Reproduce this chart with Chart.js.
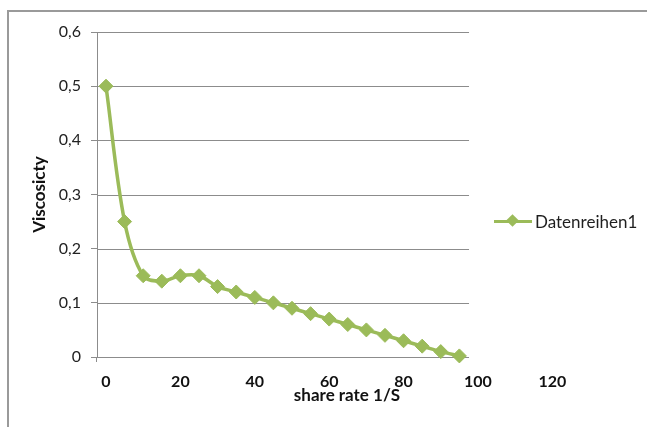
<!DOCTYPE html>
<html>
<head>
<meta charset="utf-8">
<script src="https://cdn.jsdelivr.net/npm/chart.js@4.4.0/dist/chart.umd.min.js"></script>
<style>
  html, body { margin: 0; padding: 0; background: #fff; }
  #wrap { position: relative; width: 647px; height: 427px; overflow: hidden; }
  #frame { position: absolute; left: 7px; top: 10px; right: -4px; bottom: -4px;
           border-left: 2px solid #9a9a9a; border-top: 2px solid #9a9a9a; }
  #chart { position: absolute; left: 0; top: 0; }
  .legend { position: absolute; left: 494px; top: 211px; height: 20px;
            font-family: Lato, "Open Sans", sans-serif; font-size: 17px; color: #1f1f1f;
            display: flex; align-items: center; }
  .legend-mark { position: relative; width: 38px; height: 20px; margin-right: 3px; }
  .legend-mark .ln { position: absolute; left: 0; right: 0; top: 8.5px; height: 3px; background: #9bbb59; }
  .legend-mark .dm { position: absolute; left: 14px; top: 5px; width: 9px; height: 9px;
                     background: #9bbb59; transform: rotate(45deg); }
</style>
</head>
<body>
<div id="wrap">
  <div id="frame"></div>
  <canvas id="chart" width="647" height="427"></canvas>
  <div class="legend">
    <span class="legend-mark"><span class="ln"></span><span class="dm"></span></span>
    <span id="legendLabel"></span>
  </div>
</div>
<script>
// share rate (1/S) and measured viscosity
const shareRate = [0, 5, 10, 15, 20, 25, 30, 35, 40, 45, 50, 55, 60, 65, 70, 75, 80, 85, 90, 95];
const viscosity = [0.5, 0.25, 0.15, 0.14, 0.15, 0.15, 0.13, 0.12, 0.11, 0.10,
                   0.09, 0.08, 0.07, 0.06, 0.05, 0.04, 0.03, 0.02, 0.01, 0.002];
const xTickValues = [0, 20, 40, 60, 80, 100, 120];
const seriesName = "Datenreihen1";

const GREEN = "#9bbb59";
const GRID = "#8c8c8c";
const FONT = "Lato, 'Open Sans', sans-serif";
const GRID_END = 97.6; // horizontal gridlines stop here (x value)

document.getElementById("legendLabel").textContent = seriesName;

// horizontal gridlines, clipped short of the right edge of the plot
const shortGrid = {
  id: "shortGrid",
  beforeDatasetsDraw(chart) {
    const { ctx, chartArea, scales: { x, y } } = chart;
    const xEnd = x.getPixelForValue(GRID_END);
    ctx.save();
    ctx.strokeStyle = GRID;
    ctx.lineWidth = 1;
    y.ticks.forEach(t => {
      const py = Math.round(y.getPixelForValue(t.value)) + 0.5;
      ctx.beginPath();
      ctx.moveTo(chartArea.left, py);
      ctx.lineTo(xEnd, py);
      ctx.stroke();
    });
    // little tick under the axis corner
    const px = Math.round(chartArea.left) - 0.5;
    ctx.beginPath();
    ctx.moveTo(px, chartArea.bottom);
    ctx.lineTo(px, chartArea.bottom + 5);
    ctx.stroke();
    ctx.restore();
  },
};

new Chart(document.getElementById("chart"), {
  type: "line",
  data: {
    datasets: [{
      label: seriesName,
      data: shareRate.map((r, i) => ({ x: r, y: viscosity[i] })),
      borderColor: GREEN,
      backgroundColor: GREEN,
      borderWidth: 3.5,
      tension: 0.35,
      pointStyle: "rectRot",
      pointRadius: 7,
      pointHoverRadius: 7,
      pointBorderWidth: 1,
      clip: false,
    }],
  },
  options: {
    responsive: false,
    animation: false,
    events: [],
    layout: { padding: { left: 25, top: 32, right: 50, bottom: 0 } },
    plugins: {
      legend: { display: false },
      tooltip: { enabled: false },
    },
    scales: {
      x: {
        type: "linear",
        min: -2.42,
        max: 132,
        afterBuildTicks: s => { s.ticks = xTickValues.map(v => ({ value: v })); },
        afterFit: s => { s.height = 70; },
        grid: { display: false },
        border: { display: false },
        ticks: {
          padding: 7,
          color: "#111",
          font: { family: FONT, size: 16, weight: "bold" },
          maxRotation: 0,
        },
        title: {
          display: true,
          text: "share rate 1/S",
          color: "#111",
          font: { family: FONT, size: 17, weight: "bold" },
          padding: { top: 0, bottom: 21 },
        },
      },
      y: {
        min: 0,
        max: 0.6,
        afterFit: s => { s.width = 72; },
        ticks: {
          stepSize: 0.1,
          padding: 10,
          color: "#222",
          font: { family: FONT, size: 16 },
          callback: v => (v === 0 ? "0" : v.toFixed(1).replace(".", ",")),
        },
        grid: { display: true, drawOnChartArea: false, drawTicks: true, tickLength: 6, color: GRID },
        border: { display: true, color: GRID },
        title: {
          display: true,
          text: "Viscosicty",
          color: "#111",
          font: { family: FONT, size: 17, weight: "bold" },
          padding: { top: 4, bottom: 4 },
        },
      },
    },
  },
  plugins: [shortGrid],
});
</script>
</body>
</html>
